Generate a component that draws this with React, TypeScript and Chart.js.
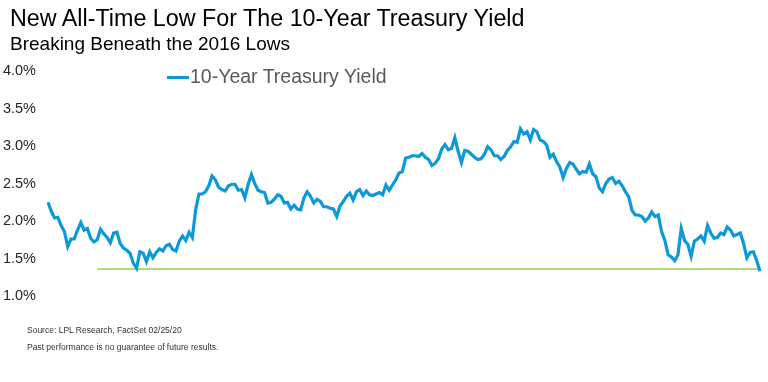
import React, { useEffect, useRef } from "react";
import { Chart, registerables } from "chart.js";

Chart.register(...registerables);

// Weekly 10-Year Treasury yield (%), Jan 2016 – Feb 25 2020
const y2016 = [2.25, 2.13, 2.04, 2.05, 1.94, 1.86, 1.66, 1.76, 1.76, 1.88, 1.98, 1.88, 1.90, 1.77, 1.72, 1.75, 1.89, 1.83, 1.78, 1.71, 1.84, 1.85, 1.70, 1.64, 1.61, 1.57, 1.44, 1.37, 1.59, 1.57, 1.46, 1.59, 1.51, 1.58, 1.63, 1.60, 1.67, 1.69, 1.62, 1.60, 1.73, 1.80, 1.74, 1.85, 1.78, 2.15, 2.36, 2.36, 2.39, 2.47, 2.60, 2.55, 2.45];
const y2017 = [2.42, 2.40, 2.47, 2.49, 2.49, 2.41, 2.42, 2.31, 2.49, 2.62, 2.50, 2.41, 2.39, 2.38, 2.24, 2.25, 2.29, 2.35, 2.33, 2.24, 2.25, 2.16, 2.21, 2.16, 2.15, 2.31, 2.39, 2.33, 2.24, 2.29, 2.26, 2.19, 2.19, 2.17, 2.16, 2.06, 2.20, 2.26, 2.33, 2.37, 2.28, 2.39, 2.42, 2.34, 2.40, 2.35, 2.34, 2.36, 2.38, 2.35, 2.48, 2.41];
const y2018 = [2.48, 2.55, 2.64, 2.66, 2.84, 2.85, 2.87, 2.87, 2.86, 2.90, 2.85, 2.82, 2.74, 2.77, 2.83, 2.96, 3.02, 2.95, 2.97, 3.11, 2.93, 2.78, 2.94, 2.93, 2.89, 2.85, 2.82, 2.83, 2.89, 2.99, 2.95, 2.87, 2.87, 2.82, 2.86, 2.94, 2.99, 3.06, 3.05, 3.23, 3.16, 3.19, 3.08, 3.22, 3.19, 3.08, 3.06, 3.01, 2.85, 2.89, 2.79, 2.72];
const y2019 = [2.58, 2.70, 2.78, 2.76, 2.69, 2.63, 2.66, 2.65, 2.76, 2.63, 2.59, 2.44, 2.39, 2.50, 2.56, 2.58, 2.50, 2.53, 2.47, 2.39, 2.32, 2.14, 2.08, 2.08, 2.06, 2.00, 2.04, 2.12, 2.06, 2.08, 1.86, 1.74, 1.55, 1.52, 1.47, 1.55, 1.90, 1.74, 1.69, 1.53, 1.73, 1.76, 1.80, 1.73, 1.94, 1.84, 1.77, 1.78, 1.84, 1.82, 1.92, 1.88];
const y2020 = [1.80, 1.82, 1.84, 1.70, 1.51, 1.58, 1.59, 1.47, 1.33];

const yields = [...y2016, ...y2017, ...y2018, ...y2019, ...y2020];

// week-ending labels
const startDate = new Date(Date.UTC(2016, 0, 1));
const labels = yields.map((_, i) => {
  if (i === yields.length - 1) return "2020-02-25";
  const d = new Date(startDate.getTime() + i * 7 * 86400000);
  return d.toISOString().slice(0, 10);
});

// 2016 low reference line
const lowLevel = 1.36;
const lowStartIndex = 15;
const lowLine = yields.map((_, i) => (i >= lowStartIndex ? lowLevel : null));

const yTicks = [1.0, 1.5, 2.0, 2.5, 3.0, 3.5, 4.0];

const FONT = '"Liberation Sans", Arial, Helvetica, sans-serif';
const BLUE = "#0C99D9";
const GREEN = "#92D050";

export default function App() {
  const ref = useRef<HTMLCanvasElement>(null);

  useEffect(() => {
    const chart = new Chart(ref.current as HTMLCanvasElement, {
      type: "line",
      data: {
        labels,
        datasets: [
          {
            label: "10-Year Treasury Yield",
            data: yields,
            borderColor: BLUE,
            borderWidth: 3.2,
            pointRadius: 0,
            tension: 0,
            fill: false,
            order: 1,
          },
          {
            label: "2016 Low",
            data: lowLine,
            borderColor: GREEN,
            borderWidth: 1.5,
            pointRadius: 0,
            tension: 0,
            fill: false,
            order: 2,
          },
        ],
      },
      options: {
        responsive: false,
        animation: false,
        devicePixelRatio: 1,
        layout: { padding: { top: 71, bottom: 86, right: 8, left: 0 } },
        plugins: { legend: { display: false }, tooltip: { enabled: false }, title: { display: false } },
        scales: {
          x: { display: false },
          y: {
            min: yTicks[0],
            max: yTicks[yTicks.length - 1],
            afterBuildTicks: (s: any) => {
              s.ticks = yTicks.map((v) => ({ value: v }));
            },
            afterFit: (s: any) => {
              s.width = 48;
            },
            ticks: {
              callback: (v: any) => Number(v).toFixed(1) + "%",
              padding: 12,
              color: "#262626",
              font: { family: FONT, size: 14.5 },
            },
            grid: { display: false, drawTicks: false },
            border: { display: false },
          },
        },
      },
    });
    return () => chart.destroy();
  }, []);

  return (
    <div style={{ position: "absolute", left: 0, top: 0, width: 768, height: 382, background: "#fff", fontFamily: FONT, overflow: "hidden" }}>
      <canvas ref={ref} width={768} height={382} style={{ position: "absolute", left: 0, top: 0 }} />
      <div style={{ position: "absolute", left: 10, top: 7.3, fontSize: 23.3, lineHeight: 1, color: "#000", whiteSpace: "nowrap" }}>
        New All-Time Low For The 10-Year Treasury Yield
      </div>
      <div style={{ position: "absolute", left: 10, top: 34, fontSize: 19, lineHeight: 1, color: "#000", whiteSpace: "nowrap" }}>
        Breaking Beneath the 2016 Lows
      </div>
      <div style={{ position: "absolute", left: 167, top: 76, width: 22, height: 3, background: BLUE }} />
      <div style={{ position: "absolute", left: 190, top: 66.8, fontSize: 19.5, lineHeight: 1, color: "#595959", whiteSpace: "nowrap" }}>
        10-Year Treasury Yield
      </div>
      <div style={{ position: "absolute", left: 27, top: 326, fontSize: 8.5, lineHeight: 1, color: "#333", whiteSpace: "nowrap" }}>
        Source: LPL Research, FactSet 02/25/20
      </div>
      <div style={{ position: "absolute", left: 27, top: 343, fontSize: 8.5, lineHeight: 1, color: "#333", whiteSpace: "nowrap" }}>
        Past performance is no guarantee of future results.
      </div>
    </div>
  );
}
